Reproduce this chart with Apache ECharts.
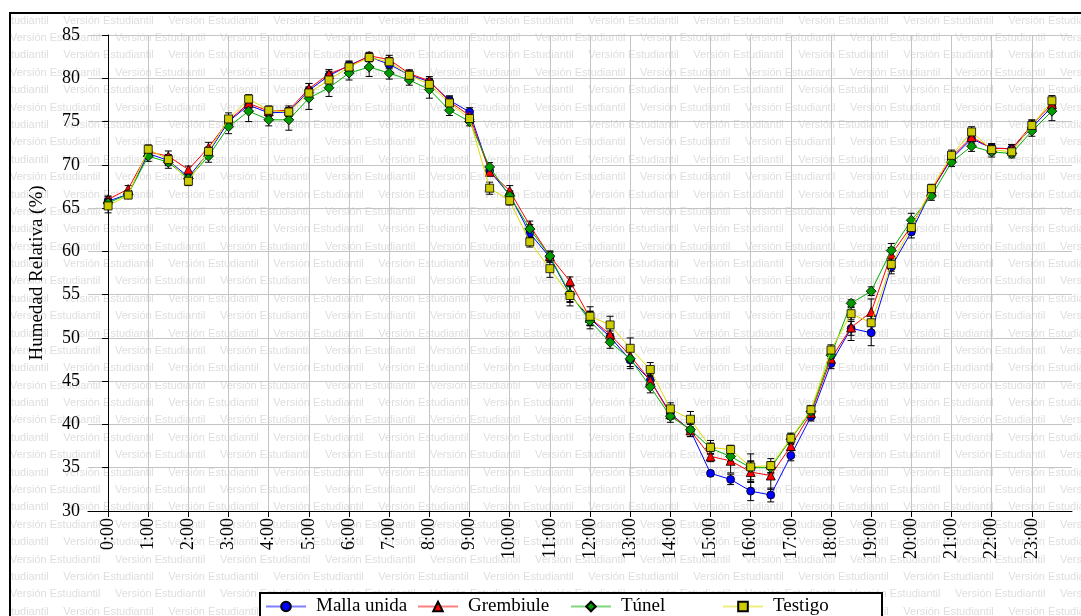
<!DOCTYPE html>
<html>
<head>
<meta charset="utf-8">
<title>Humedad Relativa</title>
<script src="https://cdn.jsdelivr.net/npm/echarts@6/dist/echarts.min.js"></script>
<style>
  html, body { margin: 0; padding: 0; background: #fff; }
  #chart { width: 1081px; height: 616px; }
</style>
</head>
<body>
<div id="chart"></div>
<script>
// hora del día (cada media hora)
const horas = [0, 0.5, 1, 1.5, 2, 2.5, 3, 3.5, 4, 4.5, 5, 5.5, 6, 6.5, 7, 7.5,
  8, 8.5, 9, 9.5, 10, 10.5, 11, 11.5, 12, 12.5, 13, 13.5, 14, 14.5, 15, 15.5,
  16, 16.5, 17, 17.5, 18, 18.5, 19, 19.5, 20, 20.5, 21, 21.5, 22, 22.5, 23, 23.5]

// marcas del eje x
const tickHoras = [0, 1, 2, 3, 4, 5, 6, 7, 8, 9, 10, 11, 12, 13, 14, 15, 16, 17, 18, 19, 20, 21, 22, 23]
const tickLabels = ['0:00', '1:00', '2:00', '3:00', '4:00', '5:00', '6:00', '7:00', '8:00', '9:00', '10:00', '11:00',
  '12:00', '13:00', '14:00', '15:00', '16:00', '17:00', '18:00', '19:00', '20:00', '21:00', '22:00', '23:00']

const nombres = ['Malla unida', 'Grembiule', 'Túnel', 'Testigo']

// humedad relativa (%)
const mallaUnida = [65.8, 66.6, 71.3, 70.5, 68.6, 71.4, 75.0, 76.9, 76.0, 76.1, 78.6, 80.3,
  81.5, 82.5, 81.6, 80.4, 79.6, 77.45, 76.1, 69.3, 66.5, 62.1, 59.3, 55.0,
  52.25, 50.1, 47.45, 45.1, 41.3, 39.3, 34.35, 33.65, 32.3, 31.85, 36.4, 40.9,
  47.05, 51.1, 50.6, 58.2, 62.25, 67.0, 70.7, 73.0, 71.95, 71.85, 74.3, 76.7]
const grembiule = [66.0, 67.2, 71.5, 71.0, 69.45, 72.0, 75.1, 77.1, 76.2, 76.3, 78.8, 80.5,
  81.4, 82.6, 82.15, 80.55, 79.7, 77.3, 75.7, 69.2, 67.0, 63.0, 59.45, 56.55,
  52.3, 50.4, 47.95, 45.05, 41.2, 39.3, 36.3, 35.8, 34.5, 34.1, 37.5, 41.3,
  47.6, 51.2, 53.0, 59.65, 62.9, 67.0, 70.9, 73.2, 71.9, 71.85, 74.6, 77.0]
const tunel = [65.6, 66.6, 71.0, 70.3, 68.4, 71.0, 74.4, 76.2, 75.2, 75.2, 77.7, 78.9,
  80.6, 81.3, 80.6, 79.8, 78.7, 76.3, 75.0, 69.75, 66.4, 62.6, 59.45, 55.1,
  51.95, 49.5, 47.6, 44.35, 40.95, 39.4, 37.25, 36.3, 35.0, 35.0, 38.3, 41.5,
  48.0, 54.0, 55.4, 60.1, 63.6, 66.4, 70.3, 72.15, 71.5, 71.3, 73.9, 76.2]
const testigo = [65.25, 66.5, 71.8, 70.6, 68.1, 71.55, 75.3, 77.6, 76.3, 76.1, 78.3, 79.8,
  81.3, 82.4, 81.9, 80.35, 79.3, 77.15, 75.35, 67.3, 65.85, 61.1, 58.0, 54.9,
  52.5, 51.5, 48.8, 46.35, 41.8, 40.6, 37.35, 37.1, 35.1, 35.25, 38.4, 41.7,
  48.6, 52.8, 51.75, 58.5, 62.75, 67.25, 71.1, 73.8, 71.75, 71.5, 74.55, 77.4]

// error estándar (±)
const errMalla = [0.5, 0.4, 0.5, 0.6, 0.4, 0.5, 0.6, 0.6, 0.4, 0.5, 0.8, 0.5,
  0.5, 0.4, 0.5, 0.4, 0.4, 0.5, 0.5, 0.5, 0.5, 0.5, 0.6, 0.9,
  0.8, 0.7, 1.0, 0.7, 0.6, 0.7, 0.3, 0.6, 1.1, 0.8, 0.6, 0.5,
  0.6, 0.8, 1.5, 0.8, 0.7, 0.5, 0.5, 0.5, 0.5, 0.5, 0.5, 0.6]
const errGrembiule = [0.4, 0.4, 0.5, 0.6, 0.4, 0.6, 0.5, 0.5, 0.4, 0.5, 0.6, 0.5,
  0.5, 0.4, 0.5, 0.4, 0.5, 0.5, 0.5, 0.5, 0.6, 0.5, 0.5, 0.5,
  0.8, 0.7, 0.8, 0.6, 0.6, 0.7, 0.6, 1.4, 1.2, 1.6, 0.5, 0.5,
  0.7, 1.5, 1.5, 0.8, 0.7, 0.5, 0.5, 0.5, 0.5, 0.5, 0.6, 0.6]
const errTunel = [0.5, 0.4, 0.6, 0.7, 0.5, 0.7, 0.8, 1.2, 0.7, 1.2, 1.3, 1.0,
  0.8, 1.1, 0.7, 0.6, 1.0, 0.6, 0.5, 0.5, 0.5, 0.5, 0.6, 0.9,
  0.9, 0.7, 0.9, 0.7, 0.7, 0.8, 0.6, 0.6, 0.8, 0.7, 0.6, 0.5,
  0.9, 0.4, 0.5, 0.8, 0.8, 0.5, 0.5, 0.6, 0.6, 0.5, 0.6, 1.1]
const errTestigo = [0.8, 0.4, 0.5, 0.6, 0.5, 0.5, 0.7, 0.5, 0.5, 0.5, 0.5, 0.6,
  0.5, 0.5, 0.5, 0.6, 0.5, 0.8, 0.5, 0.7, 0.5, 0.6, 1.0, 1.2,
  1.1, 1.0, 1.2, 0.8, 0.7, 0.9, 0.8, 0.5, 1.5, 0.8, 0.6, 0.5,
  0.6, 0.7, 0.9, 0.8, 0.8, 0.5, 0.6, 0.6, 0.6, 0.5, 0.6, 0.6]

const valores = [mallaUnida, grembiule, tunel, testigo]
const errores = [errMalla, errGrembiule, errTunel, errTestigo]

const estilos = [
  { line: '#0000FF', fill: '#0000FF', symbol: 'circle', size: 8 },
  { line: '#FF0000', fill: '#FF0000', symbol: 'triangle', size: 9 },
  { line: '#00B000', fill: '#009900', symbol: 'diamond', size: 10 },
  { line: '#DDDD00', fill: '#CCCC00', symbol: 'rect', size: 8 }
]

const serif = 'Liberation Serif'
const chart = echarts.init(document.getElementById('chart'))

// barras de error con caps
const renderError = (params, api) => {
  const x = api.value(0)
  const y = api.value(1)
  const e = api.value(2)
  const top = api.coord([x, y + e])
  const bot = api.coord([x, y - e])
  const w = 3.5
  const st = { stroke: '#000', lineWidth: 1 }
  return {
    type: 'group',
    children: [
      { type: 'line', shape: { x1: top[0], y1: top[1], x2: bot[0], y2: bot[1] }, style: st },
      { type: 'line', shape: { x1: top[0] - w, y1: top[1], x2: top[0] + w, y2: top[1] }, style: st },
      { type: 'line', shape: { x1: bot[0] - w, y1: bot[1], x2: bot[0] + w, y2: bot[1] }, style: st }
    ]
  }
}

const series = []
nombres.forEach((nombre, k) => {
  series.push({
    name: 'err ' + nombre,
    type: 'custom',
    renderItem: renderError,
    silent: true,
    z: 1,
    encode: { x: 0, y: 1 },
    data: horas.map((h, i) => [h, valores[k][i], errores[k][i]])
  })
})
nombres.forEach((nombre, k) => {
  const s = estilos[k]
  series.push({
    name: nombre,
    type: 'line',
    z: 2 + k,
    symbol: s.symbol,
    symbolSize: s.size,
    showAllSymbol: true,
    lineStyle: { color: s.line, width: 1 },
    itemStyle: { color: s.fill, borderColor: '#000', borderWidth: 0.8 },
    emphasis: { disabled: true },
    data: horas.map((h, i) => [h, valores[k][i]])
  })
})

// una leyenda por elemento, en columnas fijas
const legendLeft = [265, 417, 570, 722]
const legends = nombres.map((nombre, k) => ({
  data: [nombre],
  left: legendLeft[k],
  top: 597,
  padding: 0,
  itemWidth: 40,
  itemHeight: 12,
  selectedMode: false,
  lineStyle: { width: 2, opacity: 0.5 },
  textStyle: { fontFamily: serif, fontSize: 19, color: '#000', padding: [0, 0, 0, 5] }
}))

// marca de agua "Versión Estudiantil"
const marca = []
for (let r = 0; r < 36; r++) {
  const y = 20.7 + r * 17.38
  const x0 = r % 2 === 0 ? 63.3 - 105 : 10 - 105
  for (let x = x0; x < 1090; x += 105) {
    marca.push({
      type: 'text', x: x, y: y, z: -10, silent: true,
      style: { text: 'Versión Estudiantil', fill: '#DEDEDE', fontSize: 11,
        fontFamily: 'Liberation Sans', verticalAlign: 'middle' }
    })
  }
}

chart.setOption({
  animation: false,
  backgroundColor: '#fff',
  grid: { left: 88, top: 35, right: 9, bottom: 105 },
  legend: legends,
  xAxis: {
    type: 'value',
    min: -0.5,
    max: 24,
    axisLine: { lineStyle: { color: '#000', width: 1 } },
    axisTick: { customValues: tickHoras, length: 6, lineStyle: { color: '#000' } },
    axisLabel: {
      customValues: tickHoras,
      rotate: 90,
      margin: 7,
      fontFamily: serif,
      fontSize: 18,
      color: '#000',
      formatter: v => tickLabels[tickHoras.indexOf(v)]
    },
    splitLine: { show: true, lineStyle: { color: '#C4C4C4', width: 1 } }
  },
  yAxis: {
    type: 'value',
    min: 30,
    max: 85,
    interval: 5,
    name: 'Humedad Relativa (%)',
    nameLocation: 'middle',
    nameGap: 41,
    nameTextStyle: { fontFamily: serif, fontSize: 19, color: '#000' },
    axisLine: { show: true, lineStyle: { color: '#000', width: 1 } },
    axisTick: { show: true, length: 6, lineStyle: { color: '#000' } },
    axisLabel: { margin: 8, fontFamily: serif, fontSize: 18, color: '#000' },
    splitLine: { show: true, lineStyle: { color: '#C4C4C4', width: 1 } }
  },
  graphic: marca.concat([
    { type: 'rect', z: -9, silent: true, shape: { x: 0, y: 0, width: 1081, height: 12 }, style: { fill: '#fff' } },
    { type: 'rect', z: -9, silent: true, shape: { x: 0, y: 0, width: 9, height: 616 }, style: { fill: '#fff' } },
    { type: 'rect', z: 10, silent: true, shape: { x: 10, y: 13, width: 1100, height: 650 },
      style: { fill: null, stroke: '#000', lineWidth: 2 } },
    { type: 'rect', z: 3, silent: true, shape: { x: 260, y: 593, width: 622, height: 60 },
      style: { fill: '#fff', stroke: '#000', lineWidth: 2 } }
  ]),
  series: series
})
</script>
</body>
</html>
